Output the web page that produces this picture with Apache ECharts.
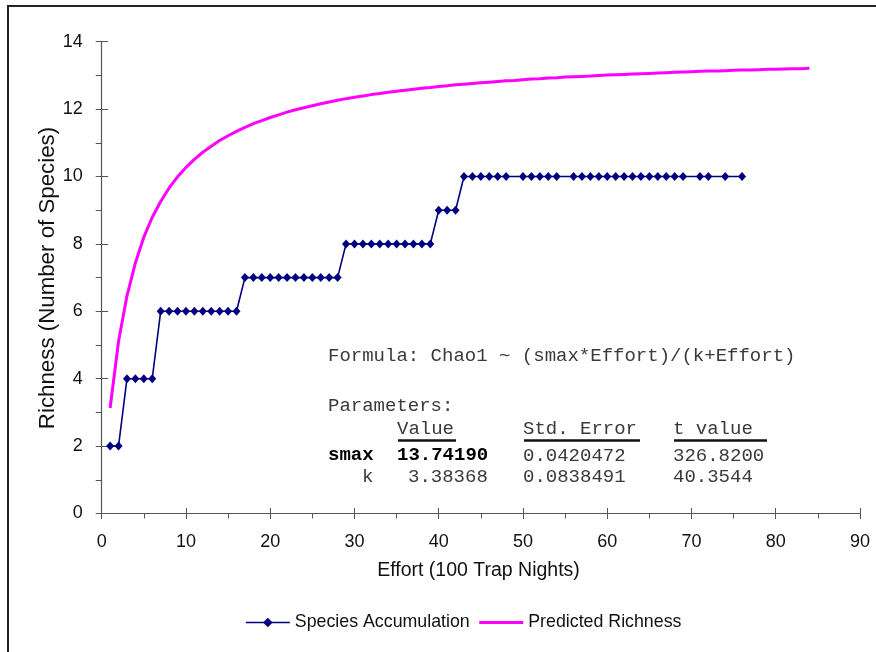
<!DOCTYPE html>
<html>
<head>
<meta charset="utf-8">
<script src="https://cdn.jsdelivr.net/npm/echarts@6/dist/echarts.min.js"></script>
<style>
html,body{margin:0;padding:0;background:#fff;}
#chart{width:876px;height:652px;}
</style>
</head>
<body>
<div id="chart"></div>
<script>
// ---- data ----
var speciesEffort = [1,2,3,4,5,6,7,8,9,10,11,12,13,14,15,16,17,18,19,20,21,22,23,24,25,26,27,28,29,30,31,32,33,34,35,36,37,38,39,40,41,42,43,44,45,46,47,48,50,51,52,53,54,56,57,58,59,60,61,62,63,64,65,66,67,68,69,71,72,74,76];
var speciesCount  = [2,2,4,4,4,4,6,6,6,6,6,6,6,6,6,6,7,7,7,7,7,7,7,7,7,7,7,7,8,8,8,8,8,8,8,8,8,8,8,9,9,9,10,10,10,10,10,10,10,10,10,10,10,10,10,10,10,10,10,10,10,10,10,10,10,10,10,10,10,10,10];
var predictedEffort = [1,2,3,4,5,6,7,8,9,10,11,12,13,14,15,16,17,18,19,20,21,22,23,24,25,26,27,28,29,30,31,32,33,34,35,36,37,38,39,40,41,42,43,44,45,46,47,48,49,50,51,52,53,54,55,56,57,58,59,60,61,62,63,64,65,66,67,68,69,70,71,72,73,74,75,76,77,78,79,80,81,82,83,84];
var predictedRichness = [3.13,5.11,6.46,7.44,8.20,8.79,9.26,9.66,9.99,10.27,10.51,10.72,10.90,11.07,11.21,11.34,11.46,11.57,11.66,11.75,11.83,11.91,11.98,12.04,12.10,12.16,12.21,12.26,12.31,12.35,12.39,12.43,12.46,12.50,12.53,12.56,12.59,12.62,12.64,12.67,12.69,12.72,12.74,12.76,12.78,12.80,12.82,12.84,12.85,12.87,12.89,12.90,12.92,12.93,12.95,12.96,12.97,12.98,13.00,13.01,13.02,13.03,13.04,13.05,13.06,13.07,13.08,13.09,13.10,13.11,13.12,13.13,13.13,13.14,13.15,13.16,13.16,13.17,13.18,13.18,13.19,13.20,13.20,13.21];
var seriesNames = ['Species Accumulation','Predicted Richness'];
var xTitle = 'Effort (100 Trap Nights)';
var yTitle = 'Richness (Number of Species)';
var formulaText = 'Formula: Chao1 ~ (smax*Effort)/(k+Effort)';
var paramsTitle = 'Parameters:';
var paramHeaders = ['Value','Std. Error','t value'];
var paramRowNames = ['smax','k'];
var paramValues = ['13.74190','3.38368'];
var paramStdErr = ['0.0420472','0.0838491'];
var paramT = ['326.8200','40.3544'];

// ---- build ----
function pairs(xs, ys){ return xs.map(function(x,i){ return [x, ys[i]]; }); }

var SANS = '"Liberation Sans", Arial, sans-serif';
var MONO = '"Liberation Mono", "Courier New", monospace';
var AX = '#555';

function mono(text, x, y, bold, color){
  return {type:'text', x:x, y:y, z:10, style:{text:text, font:(bold?'bold ':'')+'19px '+MONO, fill:color||'#3a3a3a', textAlign:'left', textVerticalAlign:'middle'}};
}
function uline(x1,x2,y){
  return {type:'line', z:10, shape:{x1:x1,y1:y,x2:x2,y2:y}, style:{stroke:'#111', lineWidth:2.5}};
}

var colX = [397, 523, 673];
var graphics = [
  {type:'rect', z:0, shape:{x:8,y:6,width:1200,height:1200}, style:{fill:'none', stroke:'#222', lineWidth:2}},
  {type:'text', x:478.5, y:571, z:10, style:{text:xTitle, font:'19.5px '+SANS, fill:'#111', textAlign:'center', textVerticalAlign:'middle'}},
  {type:'text', x:48, y:278, rotation:Math.PI/2, z:10, style:{text:yTitle, font:'22.3px '+SANS, fill:'#111', textAlign:'center', textVerticalAlign:'middle'}},
  mono(formulaText, 328, 356),
  mono(paramsTitle, 328, 406),
  mono(paramHeaders[0], colX[0], 429),
  mono(paramHeaders[1], colX[1], 429),
  mono(paramHeaders[2], colX[2], 429),
  uline(398,456,440.5), uline(524,640,440.5), uline(674,767,440.5),
  mono(paramRowNames[0], 328, 455.5, true, '#000'),
  mono(paramValues[0], colX[0], 455.5, true, '#000'),
  mono(paramStdErr[0], colX[1], 455.5),
  mono(paramT[0], colX[2], 455.5),
  mono(paramRowNames[1], 362, 477),
  mono(paramValues[1], 408, 477),
  mono(paramStdErr[1], colX[1], 477),
  mono(paramT[1], colX[2], 477)
];

var chart = echarts.init(document.getElementById('chart'), null, {renderer:'canvas'});
chart.setOption({
  backgroundColor:'#fff',
  animation:false,
  grid:{left:101.7, right:16, top:41.7, bottom:138.5, containLabel:false},
  legend:{
    left:245, top:613.5, padding:0, itemWidth:44, itemHeight:12, itemGap:8,
    textStyle:{fontFamily:SANS, fontSize:17.8, color:'#111'},
    data:[
      {name:seriesNames[0], lineStyle:{width:1.6}},
      {name:seriesNames[1], itemStyle:{opacity:0}, lineStyle:{width:3}}
    ]
  },
  xAxis:[{
    type:'value', min:0, max:90, interval:10,
    axisLine:{show:true, lineStyle:{color:AX, width:1.2}},
    axisTick:{show:true, inside:false, length:5.5, lineStyle:{color:AX}},
    minorTick:{show:true, splitNumber:2, length:5, lineStyle:{color:AX}},
    axisLabel:{fontFamily:SANS, fontSize:18, color:'#111', margin:20},
    splitLine:{show:false}
  },{
    type:'value', min:0, max:90, interval:10, position:'bottom',
    axisLine:{show:false},
    axisTick:{show:true, inside:true, length:5.5, lineStyle:{color:AX}},
    axisLabel:{show:false}, splitLine:{show:false}
  }],
  yAxis:[{
    type:'value', min:0, max:14, interval:2,
    axisLine:{show:true, lineStyle:{color:AX, width:1.2}},
    axisTick:{show:true, inside:false, length:6, lineStyle:{color:AX}},
    minorTick:{show:true, splitNumber:2, length:6, lineStyle:{color:AX}},
    axisLabel:{fontFamily:SANS, fontSize:18, color:'#111', margin:19},
    splitLine:{show:false}
  },{
    type:'value', min:0, max:14, interval:2, position:'left',
    axisLine:{show:false},
    axisTick:{show:true, inside:true, length:6.5, lineStyle:{color:AX}},
    axisLabel:{show:false}, splitLine:{show:false}
  }],
  series:[{
    name:seriesNames[0], type:'line', xAxisIndex:0, yAxisIndex:0,
    data:pairs(speciesEffort, speciesCount),
    symbol:'diamond', symbolSize:[8,9], showAllSymbol:true,
    itemStyle:{color:'#000080'},
    lineStyle:{color:'#000080', width:1.6},
    z:3
  },{
    name:seriesNames[1], type:'line', xAxisIndex:0, yAxisIndex:0,
    data:pairs(predictedEffort, predictedRichness),
    symbol:'none',
    itemStyle:{color:'#FF00FF'},
    lineStyle:{color:'#FF00FF', width:3},
    z:2
  }],
  graphic:graphics
});
</script>
</body>
</html>
